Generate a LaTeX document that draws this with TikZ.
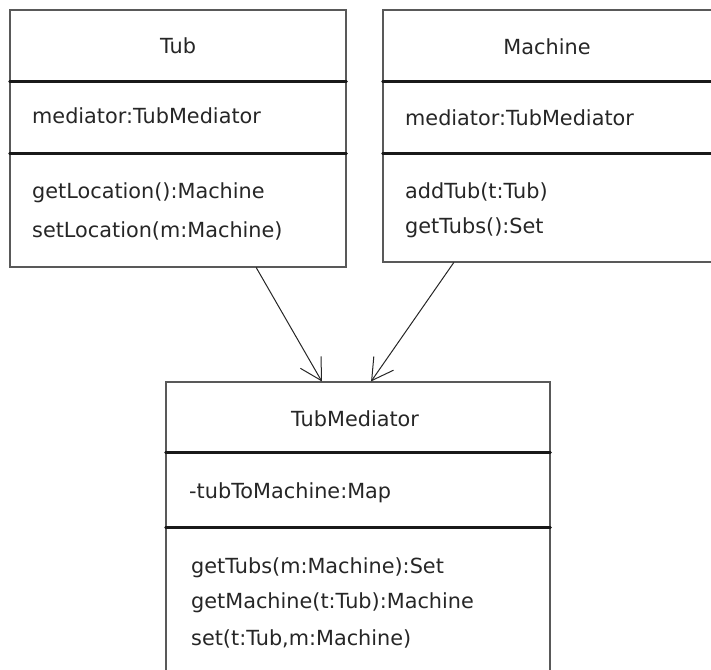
\documentclass[tikz,border=0pt]{standalone}
\usepackage{fontspec}
\setmainfont{DejaVu Sans}
\usepackage{tikz}
\usetikzlibrary{arrows.meta,calc}
\usepackage{xcolor}

\tikzset{
  classbox/.style={draw=black!65,line width=1.2pt,rectangle,inner sep=0pt},
  divider/.style={black!90,line width=2.3pt},
  member/.style={anchor=base west,inner sep=0pt,text=black!85},
  title/.style={anchor=base,inner sep=0pt,text=black!85},
  assoc/.style={-{Straight Barb[length=21pt,width=24pt]},line width=1pt,black!85}
}

\begin{document}
\begin{tikzpicture}[x=1pt,y=-1pt,font=\fontsize{20.8}{24}\selectfont,line cap=round]
\useasboundingbox (0,0) rectangle (711,669);
\clip (0,0) rectangle (711,669);
\node[classbox,minimum width=336,minimum height=257] (tub) at (178,138.5) {};
\node[classbox,minimum width=329,minimum height=252] (machine) at (547.5,136) {};
\node[classbox,minimum width=384,minimum height=318] (med) at (358,541) {};
\draw[divider] ($(tub.north west)+(0,72)$) -- ($(tub.north east)+(0,72)$);
\draw[divider] ($(tub.north west)+(0,144)$) -- ($(tub.north east)+(0,144)$);
\draw[divider] ($(machine.north west)+(0,72)$) -- ($(machine.north east)+(0,72)$);
\draw[divider] ($(machine.north west)+(0,144)$) -- ($(machine.north east)+(0,144)$);
\draw[divider] ($(med.north west)+(0,71)$) -- ($(med.north east)+(0,71)$);
\draw[divider] ($(med.north west)+(0,146)$) -- ($(med.north east)+(0,146)$);
\node[title] (tubname) at (178,53) {Tub};
\node[member] (tubattr) at (32,123) {mediator:TubMediator};
\node[member] (tubget) at (32,198) {getLocation():Machine};
\node[member] (tubset) at (32,237) {setLocation(m:Machine)};
\node[title] (machinename) at (547,54) {Machine};
\node[member] (machineattr) at (405,125) {mediator:TubMediator};
\node[member] (machineadd) at (405,198) {addTub(t:Tub)};
\node[member] (machineget) at (405,233) {getTubs():Set};
\node[title] (medname) at (355,426) {TubMediator};
\node[member] (medattr) at (189,498) {-tubToMachine:Map};
\node[member] (medtubs) at (191,573) {getTubs(m:Machine):Set};
\node[member] (medmachine) at (191,608) {getMachine(t:Tub):Machine};
\node[member] (medset) at (191,645) {set(t:Tub,m:Machine)};
\draw[assoc] ($(tub.south west)!0.732!(tub.south east)$) -- ($(med.north west)!0.406!(med.north east)$);
\draw[assoc] ($(machine.south west)!0.216!(machine.south east)$) -- ($(med.north west)!0.534!(med.north east)$);
\end{tikzpicture}
\end{document}
